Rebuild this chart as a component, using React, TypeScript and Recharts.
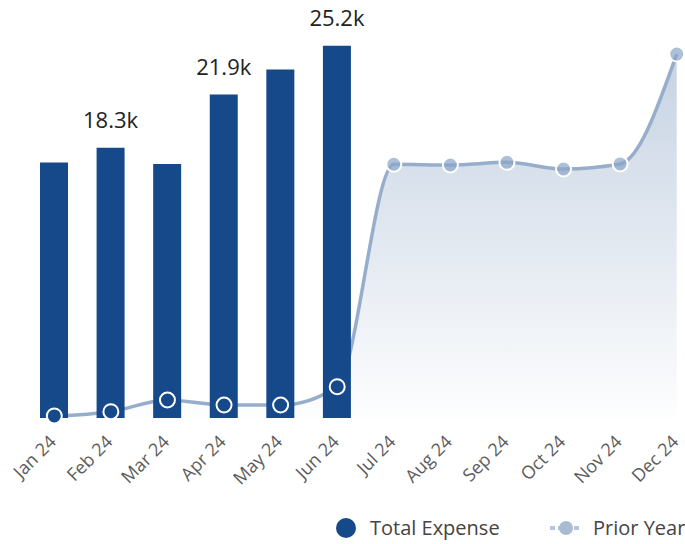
import React from 'react';
import { ComposedChart, Bar, Area, Line, XAxis, YAxis } from 'recharts';

const months = ['Jan 24', 'Feb 24', 'Mar 24', 'Apr 24', 'May 24', 'Jun 24', 'Jul 24', 'Aug 24', 'Sep 24', 'Oct 24', 'Nov 24', 'Dec 24'];
const totalExpense = [17300, 18300, 17200, 21900, 23600, 25200, null, null, null, null, null, null];
const priorYear = [140, 430, 1220, 880, 880, 2120, 17180, 17130, 17310, 16860, 17200, 24640];
// only some bar labels are visible in the original (overlapping ones hidden)
const labelShown = [false, true, false, true, false, true];

const data = months.map((m, i) => ({ month: m, total: totalExpense[i], prior: priorYear[i] }));

const BAR = '#15498a';
const PRIOR = '#96adcb';
const FONT = '"Open Sans", sans-serif';

function fmtK(v: number) {
  return (v / 1000).toFixed(1) + 'k';
}

function BarLabel(props: any) {
  const { x, y, width, value } = props;
  let idx = props.index;
  if (idx === undefined) idx = totalExpense.indexOf(value);
  if (value == null || !labelShown[idx]) return null;
  return (
    <text x={x + width / 2} y={y - 20} textAnchor="middle" fill="#222" fontSize={22} fontFamily={FONT}>
      {fmtK(value)}
    </text>
  );
}

function MonthTick(props: any) {
  const { x, y, payload } = props;
  const px = x + 3;
  const py = y + 17;
  return (
    <text x={px} y={py} transform={`rotate(-45, ${px}, ${py})`} textAnchor="end" fill="#5c5c5c" fontSize={18} fontFamily={FONT}>
      {payload.value}
    </text>
  );
}

// markers drawn above the bars; on a bar the fill takes the bar colour
const ringDot = (p: any) => {
  const onBar = totalExpense[p.index] != null;
  return (
    <circle
      key={`r-${p.index}`}
      cx={p.cx}
      cy={p.cy}
      r={7.5}
      fill={onBar ? BAR : 'rgba(140,165,200,0.7)'}
      stroke="#fff"
      strokeWidth={2}
    />
  );
};

function ChartLegend() {
  return (
    <svg width={685} height={28} style={{ position: 'absolute', left: 0, top: 514 }}>
      <circle cx={346} cy={14} r={10} fill={BAR} />
      <line x1={550} y1={14} x2={582} y2={14} stroke="#b7c6da" strokeWidth={4} strokeDasharray="5 3" />
      <circle cx={566} cy={14} r={7} fill="#a9bcd4" />
      <text x={370} y={21} fontSize={20} fill="#444" fontFamily={FONT}>Total Expense</text>
      <text x={593} y={21} fontSize={20} fill="#444" fontFamily={FONT}>Prior Year</text>
    </svg>
  );
}

export default function App() {
  return (
    <div style={{ position: 'absolute', left: 0, top: 0, width: 685, height: 544, overflow: 'hidden', background: '#fff' }}>
      <ComposedChart width={705} height={544} data={data} margin={{ top: 34, right: 0, left: 26, bottom: 66 }}>
        <defs>
          <linearGradient id="priorFill" x1="0" y1="0" x2="0" y2="1">
            <stop offset="0%" stopColor={PRIOR} stopOpacity={0.9} />
            <stop offset="100%" stopColor={PRIOR} stopOpacity={0.03} />
          </linearGradient>
        </defs>
        <XAxis dataKey="month" height={60} axisLine={false} tickLine={false} interval={0} tick={<MonthTick />} />
        <YAxis hide domain={[0, 26000]} />
        <Area
          type="monotone"
          dataKey="prior"
          stroke={PRIOR}
          strokeWidth={3.5}
          fill="url(#priorFill)"
          dot={false}
          activeDot={false}
          isAnimationActive={false}
        />
        <Bar dataKey="total" fill={BAR} barSize={28} label={<BarLabel />} isAnimationActive={false} />
        <Line
          type="monotone"
          dataKey="prior"
          stroke="none"
          dot={ringDot}
          activeDot={false}
          legendType="none"
          isAnimationActive={false}
        />
      </ComposedChart>
      <ChartLegend />
    </div>
  );
}
